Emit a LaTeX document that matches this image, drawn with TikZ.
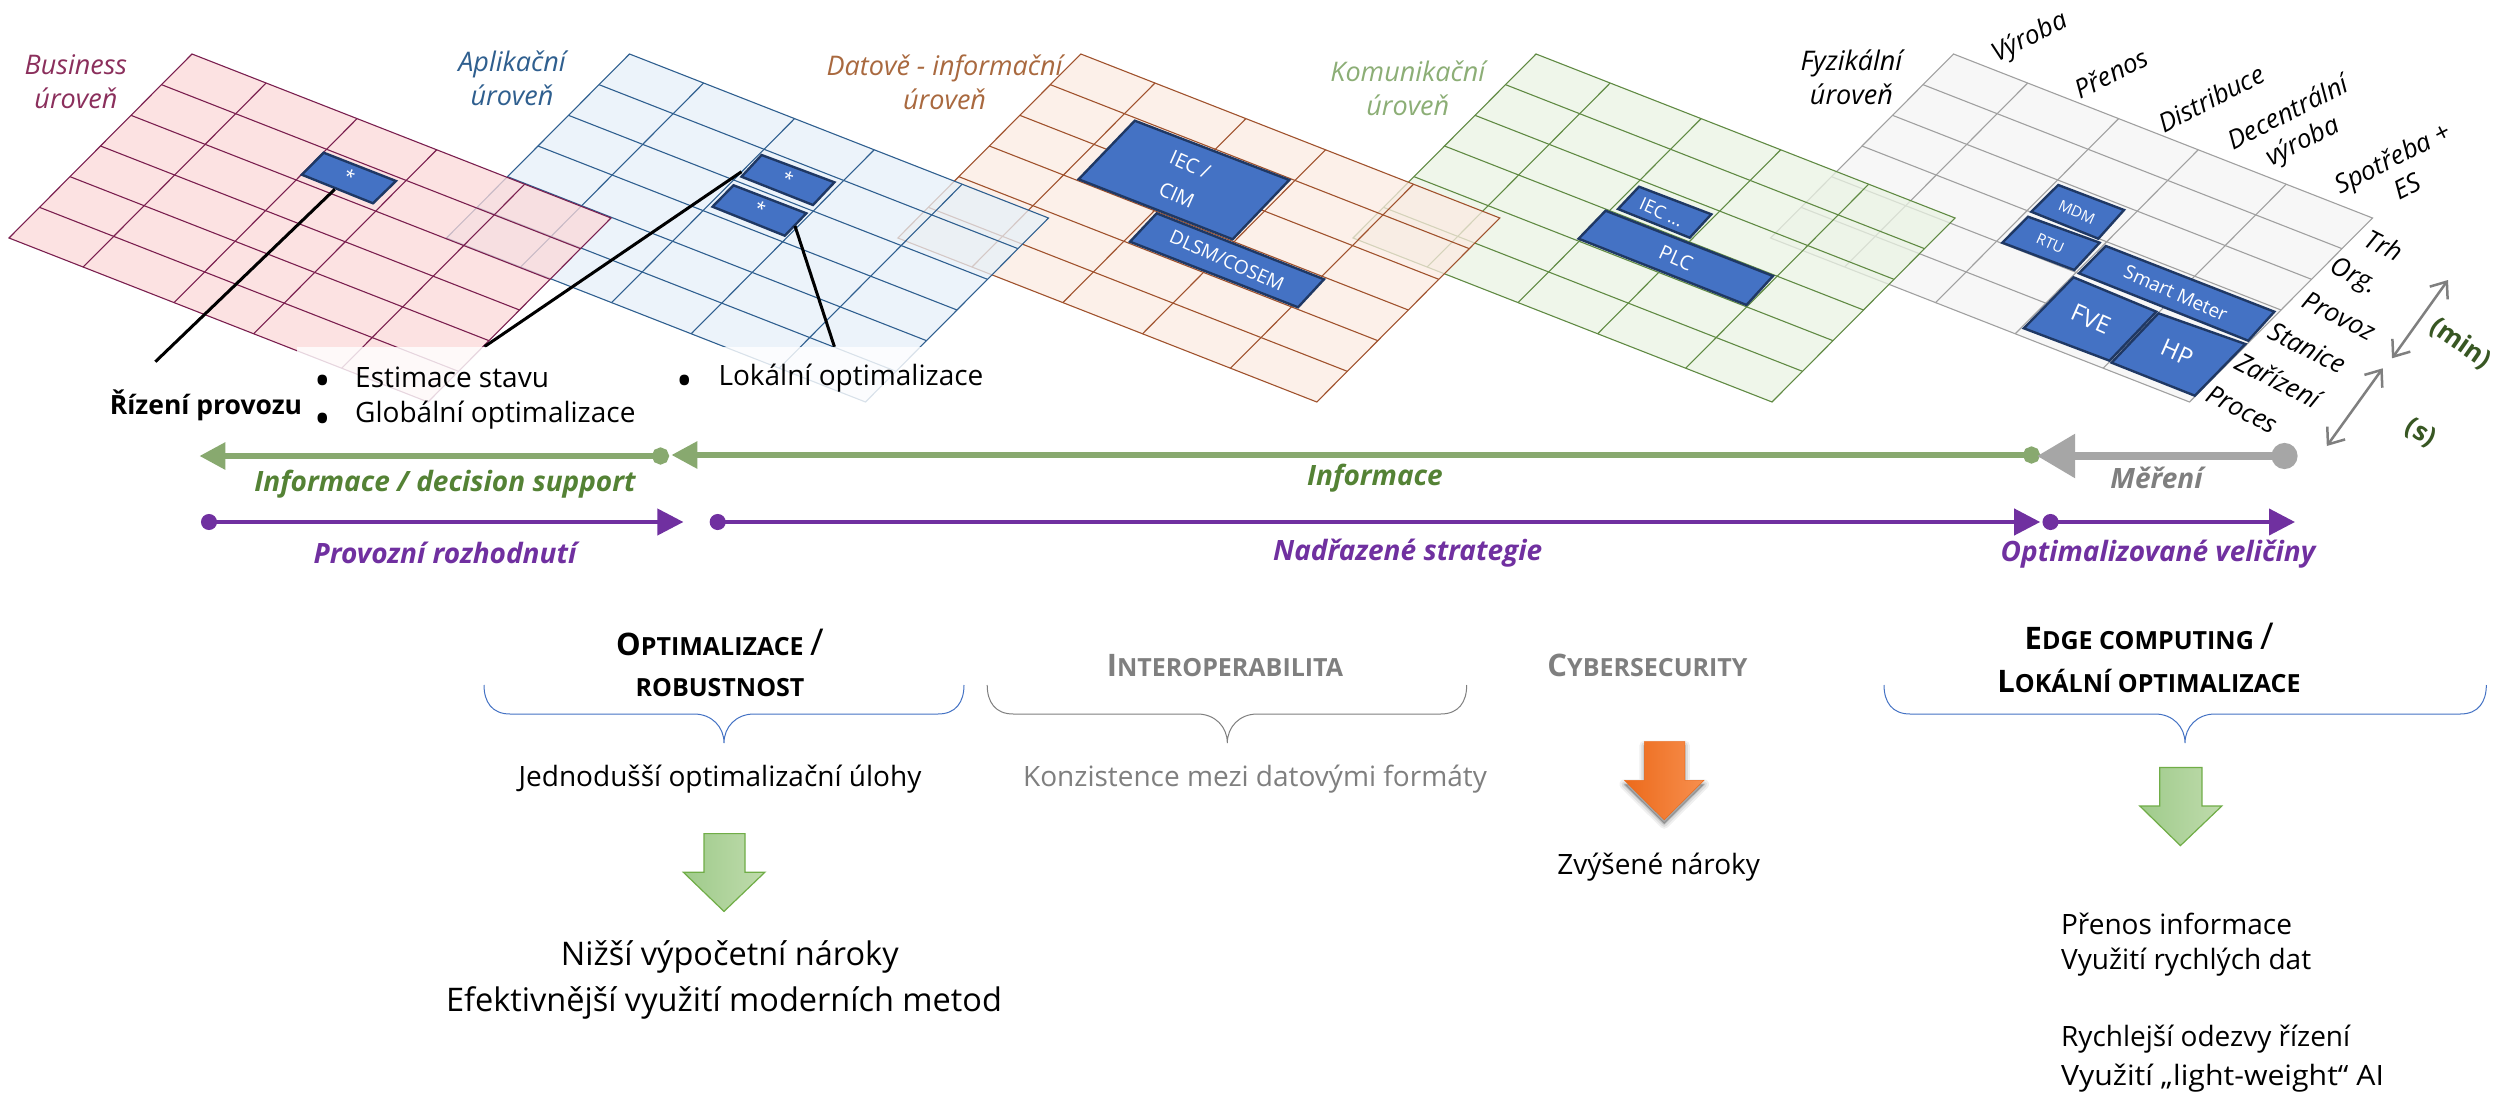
\documentclass[tikz,border=0pt]{standalone}
\usepackage{fontspec}
\setmainfont{Open Sans}
\usetikzlibrary{arrows.meta}
\definecolor{pkF}{HTML}{FCD9D9}\definecolor{pkL}{HTML}{7A1F4F}\definecolor{pkT}{HTML}{8B2F5C}
\definecolor{blF}{HTML}{E6F0F9}\definecolor{blL}{HTML}{2F5F8F}\definecolor{blT}{HTML}{2F5F8F}
\definecolor{orF}{HTML}{FCEBE2}\definecolor{orL}{HTML}{A0522D}\definecolor{orT}{HTML}{A9693F}
\definecolor{grF}{HTML}{EAF3E3}\definecolor{grL}{HTML}{608A43}\definecolor{grT}{HTML}{8CAE76}
\definecolor{gyF}{HTML}{F5F5F5}\definecolor{gyL}{HTML}{A0A0A0}
\definecolor{boxF}{HTML}{4472C4}\definecolor{boxL}{HTML}{1F3864}
\definecolor{lineG}{HTML}{88A96F}\definecolor{txtG}{HTML}{548235}\definecolor{dkG}{HTML}{385723}
\definecolor{purp}{HTML}{7030A0}\definecolor{gyA}{HTML}{A6A6A6}\definecolor{gyT}{HTML}{7F7F7F}
\definecolor{lineA}{HTML}{70AD47}\definecolor{arrowL}{HTML}{9FCB8B}\definecolor{arrowR}{HTML}{BFDBAC}
\definecolor{orL1}{HTML}{EC6A1B}\definecolor{orR1}{HTML}{F78F4E}
\newcommand\szf[2]{\fontsize{#1}{#2}\selectfont}
\newcommand\hc[2]{{\szf{31}{38}#1}#2}
\newcommand\slashbig{{\mdseries\szf{37}{38}/}}
\newcommand\gridplane[3]{%
  \begin{scope}[shift={(#1,54)},x={(419pt,-164pt)},y={(-183pt,-184pt)},line width=1.1pt,draw=#3]
    \draw[fill=#2,fill opacity=.75] (0,0)--(1,0)--(1,1)--(0,1)--cycle;
    \foreach \k in {1,...,5} \draw (0,\k/6)--(1,\k/6);
    \foreach \c in {.177,.394,.584,.794} \draw (\c,0)--(\c,1);
  \end{scope}}
\newcommand\curly[4]{%
  \draw[line width=1pt,draw=#4] (#1,685) .. controls (#1,702) and ({#1+8},714) .. ({#1+26},714) -- ({#2-30},714)
    .. controls ({#2-12},714) and (#2,727) .. (#2,743) .. controls (#2,727) and ({#2+12},714) .. ({#2+30},714)
    -- ({#3-26},714) .. controls ({#3-8},714) and (#3,702) .. (#3,685);}
\newcommand\blockdown[8]{% x0 x1 wingL wingR tipx ytop yhead ytip
  (#1,#6)--(#2,#6)--(#2,#7)--(#4,#7)--(#5,#8)--(#3,#7)--(#1,#7)--cycle}
\tikzset{
  bbox/.style={fill=boxF,draw=boxL,line width=2.4pt,line join=miter},
  btxt/.style={text=white,inner sep=0pt,align=center,rotate=-24},
  lvl/.style={inner sep=0pt,align=center,font=\itshape\szf{27}{34}},
  ax/.style={inner sep=0pt,align=center,font=\itshape\szf{26}{32},rotate=27},
  ay/.style={inner sep=0pt,font=\itshape\szf{26}{30},rotate=-27},
  tx/.style={inner sep=0pt,font=\szf{28}{32}},
  bul/.style={inner sep=0pt,font=\szf{44}{44}},
  txl/.style={inner sep=0pt,anchor=west,font=\szf{28}{32}},
  flow/.style={inner sep=0pt,font=\bfseries\itshape\szf{28}{32}},
  head/.style={inner sep=0pt,font=\bfseries\szf{25}{30}},
  sep/.style={line width=3pt,black},
  gline/.style={line width=6pt,lineG,{Circle[length=17pt]}-{Triangle[length=26pt,width=26pt]}},
  gyline/.style={line width=8.5pt,gyA,{Circle[length=26pt]}-{Triangle[length=38pt,width=42pt]}},
  pline/.style={line width=4pt,purp,{Circle[length=16pt]}-{Triangle[length=26pt,width=26pt]}},
  scale2/.style={line width=2.5pt,gyT,{Straight Barb[length=14pt,width=22pt]}-{Straight Barb[length=14pt,width=22pt]}},
  garrow/.style={draw=lineA,line width=1.2pt,left color=arrowL,right color=arrowR}
}
\begin{document}
\begin{tikzpicture}[x=1pt,y=-1pt]
\useasboundingbox (0,0) rectangle (2499,1094);
\fill[white] (0,0) rectangle (2499,1094);
% planes, back to front
\gridplane{1953.5}{gyF}{gyL}
\gridplane{1536}{grF}{grL}
\gridplane{1080.8}{orF}{orL}
\gridplane{629.5}{blF}{blL}
\gridplane{192}{pkF}{pkL}
% boxes: Business
\draw[bbox] (323.7,152.7)--(396,181)--(373,203.3)--(301.8,174.7)--cycle;
\node[btxt,font=\szf{18}{22}] (sBiz) at (349.5,176) {*};
% Aplikacni
\draw[bbox] (761.6,155)--(834.4,182.3)--(813,205)--(741.5,176.7)--cycle;
\node[btxt,font=\szf{18}{22}] (sApA) at (788,178) {*};
\draw[bbox] (733.5,185.3)--(806.3,213.3)--(784.8,235.7)--(712.5,206.7)--cycle;
\node[btxt,font=\szf{18}{22}] (sApB) at (760.3,208.5) {*};
% Datove
\draw[bbox] (1156.7,213.3)--(1324,279.3)--(1298,307.3)--(1130,241.7)--cycle;
\node[btxt,font=\szf{19}{24}] (tDlsm) at (1227,260.7) {DLSM/COSEM};
\draw[bbox] (1134.8,120.7)--(1289.3,180)--(1232.6,239.3)--(1078.6,179.3)--cycle;
\node[btxt,font=\szf{20}{33}] (tIec) at (1183.5,180) {IEC /\\CIM};
% Komunikacni
\draw[bbox] (1639,186.7)--(1711.3,214.3)--(1689.7,237.7)--(1618,209)--cycle;
\node[btxt,font=\szf{18}{22}] (tIec2) at (1661.5,212.3) {IEC ...};
\draw[bbox] (1605.6,210.7)--(1773,276)--(1746.5,305)--(1578.6,238.7)--cycle;
\node[btxt,font=\szf{20}{24}] (tPlc) at (1676,258.3) {PLC};
% Fyzikalni
\draw[bbox] (2058.2,185)--(2124,210)--(2098.3,238.7)--(2031.3,211.7)--cycle;
\node[btxt,font=\szf{15}{18}] (tMdm) at (2076.8,212.3) {MDM};
\draw[bbox] (2028,216.7)--(2099.6,242.7)--(2074.3,270)--(2002.3,242.7)--cycle;
\node[btxt,font=\szf{15}{18}] (tRtu) at (2050.3,243.3) {RTU};
\draw[bbox] (2105.8,246)--(2274.3,311.7)--(2248.2,340.7)--(2078.9,273.3)--cycle;
\node[btxt,font=\szf{19}{24}] (tSm) at (2175.7,293.3) {Smart Meter};
\draw[bbox] (2073.5,277.3)--(2156.3,311.7)--(2109.5,360.7)--(2023.8,328.3)--cycle;
\node[btxt,font=\szf{24}{28}] (tFve) at (2090.9,319.3) {FVE};
\draw[bbox] (2158.4,313.3)--(2245.3,344)--(2194.8,395.7)--(2111.6,362.7)--cycle;
\node[btxt,font=\szf{24}{28}] (tHp) at (2177,352.7) {HP};
% leader lines
\coordinate (bizEnd) at (334.8,189.3);
\coordinate (rizEnd) at (155.4,361.7);
\coordinate (apAEnd) at (741.5,171.7);
\coordinate (estEnd) at (484.4,346.7);
\coordinate (apBEnd) at (795,226);
\coordinate (lokEnd) at (834.4,346.7);
\draw[sep] (bizEnd)--(rizEnd);
\draw[sep] (apAEnd)--(estEnd);
\draw[sep] (apBEnd)--(lokEnd);
% text box veil
\fill[white,opacity=.82] (297,347) rectangle (960,420);
% level names
\node[lvl,text=pkT] (lBiz) at (75.9,82) {Business\\úroveň};
\node[lvl,text=blT] (lApl) at (512,78) {Aplikační\\úroveň};
\node[lvl,text=orT] (lDat) at (944.6,82) {Datově - informační\\úroveň};
\node[lvl,text=grT] (lKom) at (1407.8,88) {Komunikační\\úroveň};
\node[lvl] (lFyz) at (1851.4,77) {Fyzikální\\úroveň};
% axis labels
\node[ax] (aVyr) at (2030,38.3) {Výroba};
\node[ax] (aPre) at (2110.8,73.3) {Přenos};
\node[ax] (aDis) at (2211,98.3) {Distribuce};
\node[ax] (aDec) at (2295.8,128.3) {Decentrální\\výroba};
\node[ax] (aSpo) at (2399.7,171.7) {Spotřeba +\\ES};
\node[ay] (bTrh) at (2384,245) {Trh};
\node[ay] (bOrg) at (2353,277.3) {Org.};
\node[ay] (bPro) at (2339,316) {Provoz};
\node[ay] (bSta) at (2307.4,347.7) {Stanice};
\node[ay] (bZar) at (2278.4,380) {Zařízení};
\node[ay] (bPrc) at (2242.4,409.3) {Proces};
% time scale
\coordinate (mA) at (2448,280);\coordinate (mB) at (2392,358.3);
\coordinate (sA) at (2382.7,368.3);\coordinate (sB) at (2326.8,446);
\draw[scale2] (mA)--(mB);
\draw[scale2] (sA)--(sB);
\node[inner sep=0pt,text=dkG,rotate=-35,font=\bfseries\szf{26}{30}] (tMin) at (2460.5,343.3) {(min)};
\node[inner sep=0pt,text=dkG,rotate=-30,font=\bfseries\szf{26}{30}] (tSec) at (2420.4,433.3) {(s)};
% bullets
\node[inner sep=0pt,font=\bfseries\szf{26.5}{30}] (nRiz) at (206,405) {Řízení provozu};
\node[bul] (bu1) at (322.3,386) {•};
\node[txl] (nEst) at (355,377.7) {Estimace stavu};
\node[bul] (bu2) at (322.3,423.5) {•};
\node[txl] (nGlo) at (355,415) {Globální optimalizace};
\node[bul] (bu3) at (684.8,386) {•};
\node[txl] (nLok) at (718.3,377.7) {Lokální optimalizace};
% flows
\coordinate (g1s) at (669,456);\coordinate (g1e) at (199.4,456);
\coordinate (g2s) at (2040,455);\coordinate (g2e) at (671.4,455);
\coordinate (gys) at (2297.5,456);\coordinate (gye) at (2037,456);
\draw[gline] (g1s)--(g1e);
\draw[gline] (g2s)--(g2e);
\draw[gyline] (gys)--(gye);
\coordinate (p1s) at (201,522);\coordinate (p1e) at (683.4,522);
\coordinate (p2s) at (709.7,522);\coordinate (p2e) at (2040.2,522);
\coordinate (p3s) at (2042.5,522);\coordinate (p3e) at (2295,522);
\draw[pline] (p1s)--(p1e);
\draw[pline] (p2s)--(p2e);
\draw[pline] (p3s)--(p3e);
\node[flow,text=txtG] (fI1) at (445,484.5) {Informace / decision support};
\node[flow,text=txtG] (fI2) at (1375,478) {Informace};
\node[flow,text=gyT] (fM) at (2156.5,478) {Měření};
\node[flow,text=purp] (fP) at (445,553.3) {Provozní rozhodnutí};
\node[flow,text=purp] (fN) at (1407.7,553.3) {Nadřazené strategie};
\node[flow,text=purp] (fO) at (2158,554) {Optimalizované veličiny};
% headings
\node[head] (hOpt) at (720,642.7) {\hc{O}{PTIMALIZACE} \slashbig};
\node[head] (hRob) at (720,687.8) {ROBUSTNOST};
\node[head,text=gyT] (hInt) at (1225,666) {\hc{I}{NTEROPERABILITA}};
\node[head,text=gyT] (hCyb) at (1647.5,665) {\hc{C}{YBERSECURITY}};
\node[head] (hEdg) at (2149.3,636) {\hc{E}{DGE COMPUTING} \slashbig};
\node[head] (hLok) at (2149,681) {\hc{L}{OKÁLNÍ OPTIMALIZACE}};
% braces
\curly{484}{724}{964}{boxF}
\curly{987.2}{1227.3}{1466.7}{gyT}
\curly{1884}{2185}{2486.3}{boxF}
% descriptions
\node[tx] (dJed) at (720,779) {Jednodušší optimalizační úlohy};
\node[tx,text=gyT] (dKon) at (1255,779) {Konzistence mezi datovými formáty};
\node[tx] (dZvy) at (1658.6,867) {Zvýšené nároky};
\node[inner sep=0pt,font=\szf{32.5}{38}] (dNiz) at (729.7,957.4) {Nižší výpočetní nároky};
\node[inner sep=0pt,font=\szf{32.5}{38}] (dEfe) at (724,1002.5) {Efektivnější využití moderních metod};
\node[txl] (dPre) at (2060.9,924.3) {Přenos informace};
\node[txl] (dVyu) at (2060.9,962.6) {Využití rychlých dat};
\node[txl] (dRyc) at (2060.9,1039) {Rychlejší odezvy řízení};
\node[txl,xscale=1.08] (dLig) at (2060.9,1077.8) {Využití „light-weight“ AI};
% block arrows
\draw[garrow] \blockdown{704}{745}{683.4}{764.8}{724}{833.6}{872.3}{911.4};
\foreach \w/\o in {10/.06,6/.08,2/.12}
  \path[fill=black,draw=black,opacity=\o,line join=round,line width=\w pt] \blockdown{1644.3}{1684.9}{1624.4}{1704}{1664.2}{745.6}{784.3}{823.8};
\draw[draw=orL1,line width=.5pt,left color=orL1,right color=orR1] \blockdown{1644.3}{1684.9}{1624.4}{1704}{1664.2}{741.6}{780.3}{819.8};
\draw[garrow] \blockdown{2159.7}{2201.9}{2139.8}{2221.8}{2180.4}{767.4}{806}{845.6};
\end{tikzpicture}
\end{document}
